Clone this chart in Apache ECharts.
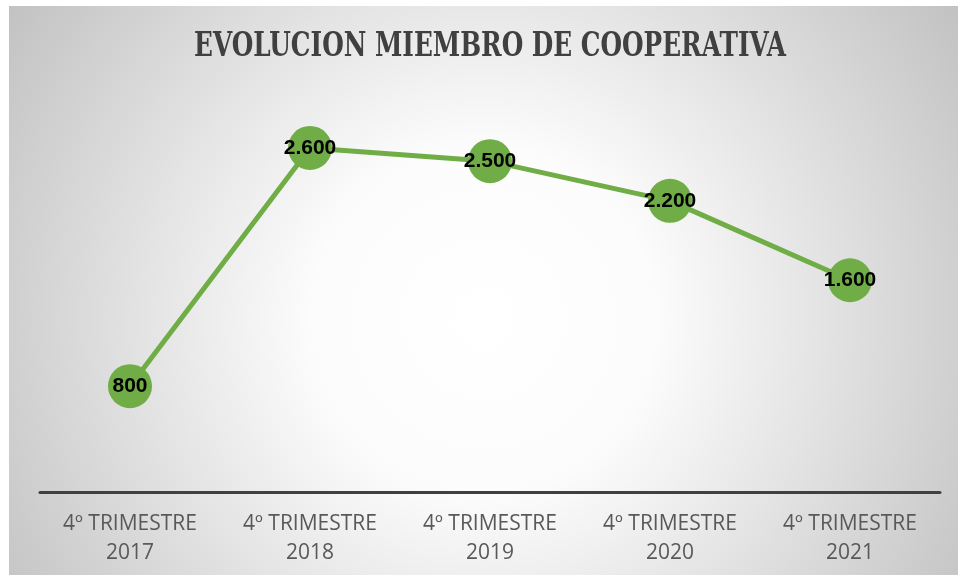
<!DOCTYPE html>
<html>
<head>
<meta charset="utf-8">
<script src="https://cdn.jsdelivr.net/npm/echarts@6/dist/echarts.min.js"></script>
<style>
    html, body { margin: 0; padding: 0; background: #ffffff; }
    #chart { position: absolute; left: 9px; top: 6px; width: 949px; height: 569px; }
</style>
</head>
<body>
<div id="chart"></div>
<script>
const chartTitle = "EVOLUCION MIEMBRO DE COOPERATIVA";
const categories = [
    "4º TRIMESTRE\n2017",
    "4º TRIMESTRE\n2018",
    "4º TRIMESTRE\n2019",
    "4º TRIMESTRE\n2020",
    "4º TRIMESTRE\n2021"
];
const members = [800, 2600, 2500, 2200, 1600];

/* ===========================
   Helpers
=========================== */

function formatThousands(v) {
    return String(v).replace(/\B(?=(\d{3})+(?!\d))/g, ".");
}

/* ===========================
   Chart
=========================== */

const chart = echarts.init(document.getElementById("chart"));

chart.setOption({

    animation: false,

    backgroundColor: {
        type: "radial",
        x: 0.5,
        y: 0.55,
        r: 1,
        colorStops: [
            { offset: 0, color: "#ffffff" },
            { offset: 0.3, color: "#fcfcfc" },
            { offset: 1, color: "#c2c2c2" }
        ]
    },

    // title drawn as graphic text so it can be squeezed like a condensed face
    graphic: [{
        type: "text",
        x: 481,
        y: 41,
        scaleX: 0.75,
        style: {
            text: chartTitle,
            align: "center",
            verticalAlign: "middle",
            font: "bold 33px 'DejaVu Serif', 'Liberation Serif', serif",
            fill: "#404040"
        }
    }],

    grid: {
        left: 31,
        right: 18,
        top: 89,
        bottom: 83
    },

    xAxis: {
        type: "category",
        boundaryGap: true,
        data: categories,
        axisLine: {
            lineStyle: { color: "#404040", width: 3 }
        },
        axisTick: { show: false },
        axisLabel: {
            margin: 18,
            fontFamily: "Open Sans, sans-serif",
            fontSize: 21,
            lineHeight: 29,
            color: "#595959"
        }
    },

    yAxis: {
        type: "value",
        min: 0,
        max: 3000,
        show: false,
        splitLine: { show: false }
    },

    series: [{
        name: "Miembros",
        type: "line",
        data: members,
        symbol: "circle",
        symbolSize: 44,
        lineStyle: { color: "#70ad47", width: 5 },
        itemStyle: { color: "#70ad47" },
        label: {
            show: true,
            position: "inside",
            formatter: p => formatThousands(p.value),
            fontFamily: "Liberation Sans, sans-serif",
            fontWeight: "bold",
            fontSize: 21,
            color: "#000000"
        }
    }]

});
</script>
</body>
</html>
